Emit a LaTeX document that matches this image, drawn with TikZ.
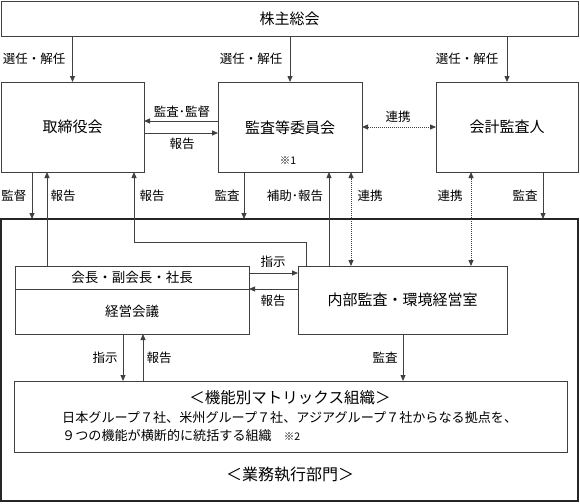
\documentclass[tikz,border=0pt]{standalone}
\usepackage{fontspec}
\setmainfont{Noto Sans CJK JP}
\usetikzlibrary{arrows.meta}
\begin{document}
\begin{tikzpicture}[x=1pt,y=-1pt,
  lc/.style={black!75},
  box/.style={draw=black!75, line width=0.8pt, rectangle, inner sep=0pt, outer sep=0pt, anchor=north west, font=\fontsize{15}{15}\selectfont},
  lbl/.style={inner sep=0pt, font=\fontsize{12.5}{12.5}\selectfont},
  arr/.style={draw=black!75, line width=0.8pt, -{Triangle[length=6pt,width=5pt]}},
  darr/.style={draw=black!75, line width=0.8pt, dash pattern=on 1pt off 1pt, {Triangle[length=6pt,width=5pt]}-{Triangle[length=6pt,width=5pt]}}
]
\useasboundingbox (0,0) rectangle (580,503);
% boxes
\node[box, minimum width=577pt, minimum height=35pt] (gm) at (1,1) {株主総会};
\node[box, minimum width=143pt, minimum height=90pt] (tori) at (1,82) {取締役会};
\node[box, minimum width=144pt, minimum height=90pt] (kansa) at (218,82) {};
\node[box, minimum width=142pt, minimum height=90pt] (kaikei) at (436,82) {会計監査人};
\node[box, line width=1.4pt, draw=black!85, minimum width=577pt, minimum height=282pt] (exec) at (1,219) {};
\node[box, minimum width=234pt, minimum height=23pt, font=\fontsize{13.5}{13.5}\selectfont] (kaicho) at (15,266) {会長・副会長・社長};
\node[box, minimum width=234pt, minimum height=45pt, font=\fontsize{13.5}{13.5}\selectfont] (keiei) at (15,289) {経営会議};
\node[box, minimum width=209pt, minimum height=68pt] (naibu) at (298,266) {内部監査・環境経営室};
\node[box, minimum width=553pt, minimum height=71pt] (matrix) at (14,381) {};
% texts inside
\node[inner sep=0pt, font=\fontsize{15}{15}\selectfont] (kansaT) at (290,128) {監査等委員会};
\node[inner sep=0pt, font=\fontsize{10.5}{10.5}\selectfont] (note1) at (288,161) {※1};
\node[inner sep=0pt, font=\fontsize{15.5}{15.5}\selectfont] (mtitle) at (290,398) {＜機能別マトリックス組織＞};
\node[inner sep=0pt, anchor=west, font=\fontsize{13.1}{13.1}\selectfont] (mline1) at (62,418) {日本グループ７社、米州グループ７社、アジアグループ７社からなる拠点を、};
\node[inner sep=0pt, anchor=west, font=\fontsize{13.1}{13.1}\selectfont] (mline2) at (62,436) {９つの機能が横断的に統括する組織\hspace{12pt}{\fontsize{10.5}{10.5}\selectfont ※2}};
\node[inner sep=0pt, font=\fontsize{16}{16}\selectfont] (gyomu) at (290,475) {＜業務執行部門＞};
% coordinates
\coordinate (xa) at (32,0);
\coordinate (xb) at (47,0);
\coordinate (xc) at (134,0);
\coordinate (xd) at (244,0);
\coordinate (xe) at (306,0);
\coordinate (xf) at (329,0);
\coordinate (xg) at (351,0);
\coordinate (xh) at (471,0);
\coordinate (xi) at (543,0);
\coordinate (xj) at (123,0);
\coordinate (xk) at (143,0);
\coordinate (xl) at (403,0);
\coordinate (ya) at (0,121);
\coordinate (yb) at (0,133);
\coordinate (yc) at (0,127);
\coordinate (yd) at (0,242);
\coordinate (ye) at (0,273);
\coordinate (yf) at (0,289);
% connectors
\draw[arr] (gm.south -| tori.north) -- (tori.north);
\draw[arr] (gm.south -| kansa.north) -- (kansa.north);
\draw[arr] (gm.south -| kaikei.north) -- (kaikei.north);
\draw[arr] (kansa.west |- ya) -- (tori.east |- ya);
\draw[arr] (tori.east |- yb) -- (kansa.west |- yb);
\draw[darr] (kansa.east |- yc) -- (kaikei.west |- yc);
\draw[arr] (tori.south -| xa) -- (exec.north -| xa);
\draw[arr] (kaicho.north -| xb) -- (tori.south -| xb);
\draw[arr] (naibu.north -| xe) -- (xe |- yd) -| (tori.south -| xc);
\draw[arr] (kansa.south -| xd) -- (exec.north -| xd);
\draw[arr] (naibu.north -| xf) -- (kansa.south -| xf);
\draw[darr] (naibu.north -| xg) -- (kansa.south -| xg);
\draw[darr] (naibu.north -| xh) -- (kaikei.south -| xh);
\draw[arr] (kaikei.south -| xi) -- (exec.north -| xi);
\draw[arr] (kaicho.east |- ye) -- (naibu.west |- ye);
\draw[arr] (naibu.west |- yf) -- (kaicho.east |- yf);
\draw[arr] (keiei.south -| xj) -- (matrix.north -| xj);
\draw[arr] (matrix.north -| xk) -- (keiei.south -| xk);
\draw[arr] (naibu.south -| xl) -- (matrix.north -| xl);
% labels
\node[lbl] (l1) at (34,59) {選任・解任};
\node[lbl] (l2) at (251,59) {選任・解任};
\node[lbl] (l3) at (467,59) {選任・解任};
\node[lbl] (l4) at (182,112) {監査･監督};
\node[lbl] (l5) at (182,144) {報告};
\node[lbl] (l6) at (398,117) {連携};
\node[lbl] (l7) at (14,196) {監督};
\node[lbl] (l8) at (63,196) {報告};
\node[lbl] (l9) at (152,196) {報告};
\node[lbl] (l10) at (227,196) {監査};
\node[lbl] (l11) at (295,196) {補助･報告};
\node[lbl] (l12) at (370,196) {連携};
\node[lbl] (l13) at (450,196) {連携};
\node[lbl] (l14) at (525,196) {監査};
\node[lbl] (l15) at (273,262) {指示};
\node[lbl] (l16) at (273,301) {報告};
\node[lbl] (l17) at (105,358) {指示};
\node[lbl] (l18) at (159,358) {報告};
\node[lbl] (l19) at (385,358) {監査};
\end{tikzpicture}
\end{document}
